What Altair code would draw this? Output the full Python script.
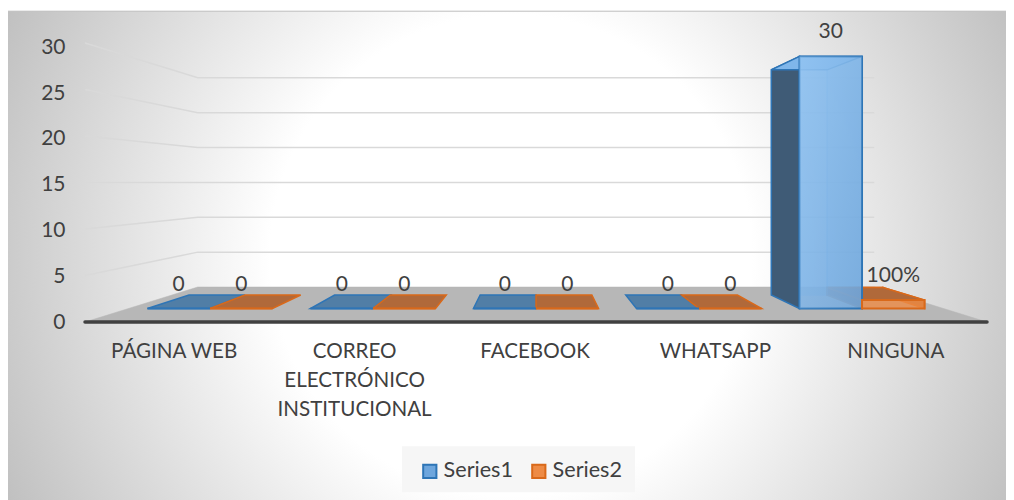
import json
import altair as alt
import pandas as pd

categories = ["PÁGINA WEB", "CORREO ELECTRÓNICO INSTITUCIONAL", "FACEBOOK", "WHATSAPP", "NINGUNA"]
category_lines = [["PÁGINA WEB"], ["CORREO", "ELECTRÓNICO", "INSTITUCIONAL"], ["FACEBOOK"], ["WHATSAPP"], ["NINGUNA"]]
series_names = ["Series1", "Series2"]
series1 = [0, 0, 0, 0, 30]
series2 = [0, 0, 0, 0, 1]
labels1 = ["0", "0", "0", "0", "30"]
labels2 = ["0", "0", "0", "0", "100%"]
y_ticks = [0, 5, 10, 15, 20, 25, 30]

FONT = "Lato"
TEXT = "#404040"
PX_PER_UNIT = 9.16
BAR_W = 0.3836
S_FLOOR_FRONT, S_BAR_FRONT, S_BAR_BACK, S_WALL = 1.0, 0.9036, 0.807, 0.75
VP_U = 2.0
VP_V = 140 / PX_PER_UNIT
C = 9.3 / PX_PER_UNIT


def proj(u, v, s):
    return VP_U + s * (u - VP_U), VP_V + s * (C * v - VP_V)


polys = []


def add_poly(pid, pts, fill, stroke, opacity=1.0, sw=1.5):
    for i, (u, v, s) in enumerate(pts):
        px, py = proj(u, v, s)
        polys.append(dict(pid=pid, i=i, x=px, y=py, f=fill, st=stroke, op=opacity, sw=sw))


add_poly("floor", [(-0.5, 0, 1), (4.5, 0, 1), (4.5, 0, S_WALL), (-0.5, 0, S_WALL)], "#b7b7b7", "#b7b7b7", 1, 0.5)

bars = []
for k, (vals, labs, name) in enumerate(zip((series1, series2), (labels1, labels2), series_names)):
    for i, (v, l) in enumerate(zip(vals, labs)):
        bars.append(dict(i=i, k=k, v=v, l=l, name=name))

FLAT = {0: ("#517ea6", "#2e75b6"), 1: ("#b0693a", "#d9691a")}
for b in sorted(bars, key=lambda d: d["v"]):
    u0 = b["i"] - BAR_W + b["k"] * BAR_W
    u1 = u0 + BAR_W
    v = b["v"]
    pid = f"b{b['k']}{b['i']}"
    fill, stroke = FLAT[b["k"]]
    if v > 0:
        dark = "#3f5b76" if b["k"] == 0 else "#a85a2c"
        add_poly(pid + "back", [(u0, 0, S_BAR_BACK), (u1, 0, S_BAR_BACK), (u1, v, S_BAR_BACK), (u0, v, S_BAR_BACK)],
                 "#5b9bd5" if b["k"] == 0 else "#b0693a", "#5b9fdd" if b["k"] == 0 else stroke, 0.35 if b["k"] == 0 else 1)
        add_poly(pid + "left", [(u0, 0, S_BAR_FRONT), (u0, v, S_BAR_FRONT), (u0, v, S_BAR_BACK), (u0, 0, S_BAR_BACK)],
                 dark, stroke, 1 if b["k"] == 0 else 0.9)
        add_poly(pid + "right", [(u1, 0, S_BAR_FRONT), (u1, v, S_BAR_FRONT), (u1, v, S_BAR_BACK), (u1, 0, S_BAR_BACK)],
                 "#5b9bd5" if b["k"] == 0 else "#b0693a", "#5b9fdd" if b["k"] == 0 else stroke, 0.45 if b["k"] == 0 else 1)
    add_poly(pid + "top", [(u0, v, S_BAR_FRONT), (u1, v, S_BAR_FRONT), (u1, v, S_BAR_BACK), (u0, v, S_BAR_BACK)],
             fill if v < 20 else "#7fb6ea", stroke, 1, 1.5)
for j, p in enumerate(polys):
    p["ord"] = j
poly_df = pd.DataFrame(polys)

grid = []
for t in y_ticks[1:]:
    for i, (u, s) in enumerate([(-0.5, 1), (-0.5, S_WALL), (4.5, S_WALL)]):
        px, py = proj(u, t, s)
        grid.append(dict(t=t, i=i, x=px, y=py))
grid_df = pd.DataFrame(grid)

front, text_rows = [], []
for b in bars:
    u0 = b["i"] - BAR_W + b["k"] * BAR_W
    u1 = u0 + BAR_W
    xa, ytop = proj(u0, b["v"], S_BAR_FRONT)
    xb, ybot = proj(u1, 0, S_BAR_FRONT)
    front.append(dict(series=b["name"], x=xa, x2=xb, y=ytop, y2=ybot, v=b["v"]))
    text_rows.append(dict(x=(xa + xb) / 2, y=ytop, l=b["l"]))
front_df = pd.DataFrame(front)
text_df = pd.DataFrame(text_rows)

x_scale = alt.Scale(domain=[-0.5, 4.5], nice=False, zero=False)
y_scale = alt.Scale(domain=[0, 30], nice=False, zero=False)

bg = alt.Chart(pd.DataFrame({"a": [0]})).mark_rect(
    fill=alt.RadialGradient(
        gradient="radial", x1=0.5, y1=0.5, x2=0.5, y2=0.5, r1=0.0, r2=0.557,
        stops=[alt.GradientStop(color="#ffffff", offset=0), alt.GradientStop(color="#ffffff", offset=0.43),
               alt.GradientStop(color="#c0c0c0", offset=1)],
    ),
).encode(x=alt.value(-77), x2=alt.value(929), y=alt.value(-36), y2=alt.value(453))

top_edge = alt.Chart(pd.DataFrame({"a": [0]})).mark_rule(color="#bdbdbd", strokeWidth=1).encode(
    x=alt.value(-77), x2=alt.value(929), y=alt.value(-36))

legend_bg = alt.Chart(pd.DataFrame({"a": [0]})).mark_rect(fill="#f6f6f6").encode(
    x=alt.value(317), x2=alt.value(550), y=alt.value(399), y2=alt.value(445))

grid_layer = alt.Chart(grid_df).mark_line(color="#d9d9d9", strokeWidth=1.5).encode(
    x=alt.X("x:Q", scale=x_scale, title=None, axis=alt.Axis(
        values=[0, 1, 2, 3, 4], labelExpr=f"{json.dumps(category_lines, ensure_ascii=False)}[datum.value]",
        domain=False, ticks=False, grid=False, labelFont=FONT, labelFontSize=20.6, labelColor=TEXT,
        labelPadding=19, labelLineHeight=29, labelOverlap=False, labelFlush=False, zindex=1, labelBaseline="top",
        labelOffset=-1.5)),
    y=alt.Y("y:Q", scale=y_scale, title=None, axis=alt.Axis(
        values=y_ticks, domain=False, ticks=False, grid=False, labelFont=FONT, labelFontSize=21,
        labelColor=TEXT, labelPadding=20, zindex=1)),
    detail="t:N", order="i:O")

poly_layer = alt.Chart(poly_df).mark_line(interpolate="linear-closed").encode(
    x=alt.X("x:Q", scale=x_scale), y=alt.Y("y:Q", scale=y_scale),
    detail=alt.Detail("pid:N"), order=alt.Order("ord:Q"),
    fill=alt.Fill("f:N", scale=None), stroke=alt.Stroke("st:N", scale=None),
    opacity=alt.Opacity("op:Q", scale=None),
    strokeWidth=alt.StrokeWidth("sw:Q", scale=None))

axis_line = alt.Chart(pd.DataFrame({"x": [-0.5], "x2": [4.5], "y": [0]})).mark_rule(
    color="#404040", strokeWidth=3.5, strokeCap="round").encode(
    x=alt.X("x:Q", scale=x_scale), x2="x2:Q", y=alt.Y("y:Q", scale=y_scale))

color_scale = alt.Scale(domain=series_names, range=["#6ea6dd", "#ee8b45"])
stroke_scale = alt.Scale(domain=series_names, range=["#2e75b6", "#d9691a"])
front_legend = alt.Legend(
    title=None, orient="none", legendX=334, legendY=413, direction="horizontal", padding=0,
    symbolType="square", symbolSize=175, symbolStrokeWidth=2, labelFont=FONT, labelFontSize=21.6,
    labelColor=TEXT, labelOffset=3, columnPadding=15, zindex=1)
front_layer = alt.Chart(front_df).mark_rect(fillOpacity=0.8, strokeWidth=2).encode(
    x=alt.X("x:Q", scale=x_scale), x2="x2:Q", y=alt.Y("y:Q", scale=y_scale), y2="y2:Q",
    fill=alt.Fill("series:N", scale=color_scale, legend=front_legend),
    stroke=alt.Stroke("series:N", scale=stroke_scale, legend=front_legend))

sheen = alt.Chart(front_df[front_df.v > 20]).mark_rect(
    fill=alt.LinearGradient(gradient="linear", x1=0, y1=0, x2=1, y2=1, stops=[
        alt.GradientStop(color="rgba(170,215,255,0.55)", offset=0),
        alt.GradientStop(color="rgba(170,215,255,0)", offset=1)])).encode(
    x=alt.X("x:Q", scale=x_scale), x2="x2:Q", y=alt.Y("y:Q", scale=y_scale), y2="y2:Q")

text_layer = alt.Chart(text_df).mark_text(font=FONT, fontSize=21, color=TEXT, dy=-24, baseline="middle").encode(
    x=alt.X("x:Q", scale=x_scale), y=alt.Y("y:Q", scale=y_scale), text="l:N")

chart = alt.layer(bg, top_edge, legend_bg, grid_layer, poly_layer, axis_line, front_layer, sheen, text_layer).resolve_scale(
    fill="independent", stroke="independent", opacity="independent", strokeWidth="independent"
).resolve_legend(fill="independent", stroke="independent").properties(
    width=902, height=274.8, background="white",
    autosize=alt.AutoSizeParams(type="none"),
    padding={"left": 77, "top": 39.2, "right": 19, "bottom": 178},
).configure_view(stroke=None)

chart.save("out.html", embed_options={"renderer": "svg", "actions": False})
